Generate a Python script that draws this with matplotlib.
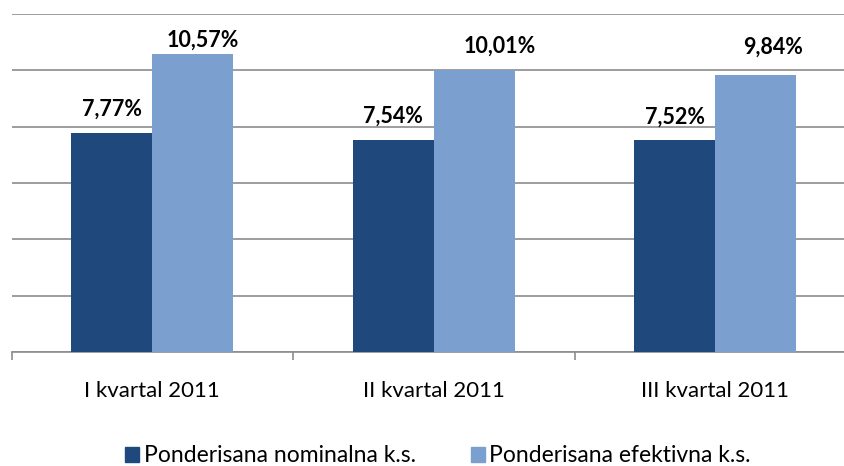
import matplotlib.pyplot as plt
import numpy as np
from matplotlib.patches import Patch

kategorije = ["I kvartal 2011", "II kvartal 2011", "III kvartal 2011"]
nominalna = [7.77, 7.54, 7.52]
efektivna = [10.57, 10.01, 9.84]
oznake_nom = ["7,77%", "7,54%", "7,52%"]
oznake_ef = ["10,57%", "10,01%", "9,84%"]

# pomaci oznaka (u tačkama), rucno rasporedjene kao u originalu
pomak_nom = [(0, 12.6), (0, 12.2), (0, 12.2)]
pomak_ef = [(7.2, 5.8), (18, 12.2), (12.2, 15.1)]

tamna = "#1F497D"
svijetla = "#7BA0CF"
plt.rcParams['font.family'] = ['Lato', 'DejaVu Sans']

fig = plt.figure(figsize=(8.44, 4.66), dpi=100)
ax = fig.add_axes([11.5 / 844, 114 / 466, 844.5 / 844, 338 / 466])

x = np.arange(len(kategorije))
w = 0.288
b1 = ax.bar(x - w / 2, nominalna, w, color=tamna, zorder=3)
b2 = ax.bar(x + w / 2, efektivna, w, color=svijetla, zorder=3)

# oznake iznad stubaca
for bars, oznake, pomaci in [(b1, oznake_nom, pomak_nom), (b2, oznake_ef, pomak_ef)]:
    for rect, t, p in zip(bars, oznake, pomaci):
        ax.annotate(t, (rect.get_x() + rect.get_width() / 2, rect.get_height()),
                    xytext=p, textcoords='offset points',
                    ha='center', va='baseline', fontsize=15.5, fontweight='bold')

ax.set_xlim(-0.5, 2.5)
ax.set_ylim(0, 12)
ax.set_yticks(np.arange(0, 13, 2))
ax.yaxis.grid(True, color='#8c8c8c', linewidth=1.2, zorder=0)
ax.tick_params(axis='y', left=False, labelleft=False)
for s in ['top', 'right', 'left']:
    ax.spines[s].set_visible(False)
ax.spines['bottom'].set_color('#8c8c8c')
ax.spines['bottom'].set_linewidth(1.2)

ax.set_xticks([-0.5, 0.5, 1.5, 2.5])
ax.set_xticklabels([])
ax.tick_params(axis='x', length=6, color='#8c8c8c', width=1.2, direction='out')
for i, k in enumerate(kategorije):
    ax.text(i, -1.4, k, ha='center', va='center', fontsize=16)

fig.legend(handles=[Patch(color=tamna, label="Ponderisana nominalna k.s."),
                    Patch(color=svijetla, label="Ponderisana efektivna k.s.")],
           loc='center', bbox_to_anchor=(0.519, 10 / 466), ncol=2, frameon=False,
           fontsize=16.5, handlelength=0.6, handleheight=0.6, handletextpad=0.2,
           columnspacing=2.4, borderpad=0)

fig.savefig("out.png", dpi=100)
